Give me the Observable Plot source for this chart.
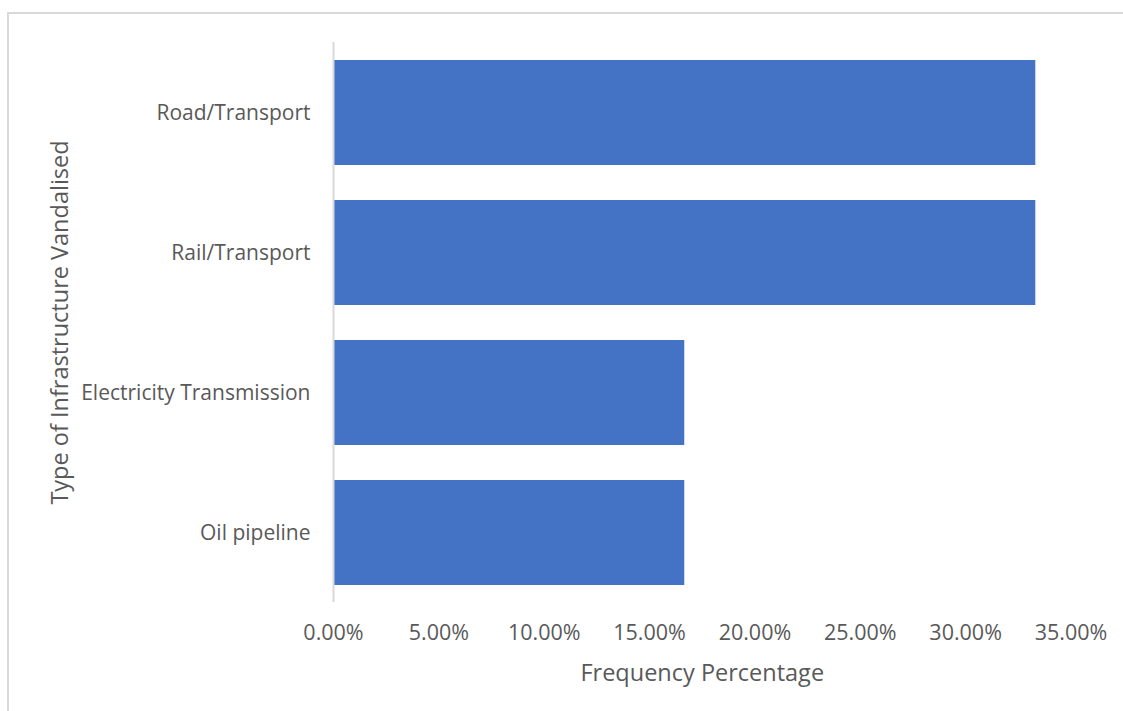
<!DOCTYPE html>
<html>
<head>
<meta charset="utf-8">
<script src="https://cdn.jsdelivr.net/npm/d3@7"></script>
<script src="https://cdn.jsdelivr.net/npm/@observablehq/plot@0.6"></script>
<style>
  html, body { margin: 0; padding: 0; background: #fff; }
  #wrap { position: relative; width: 1123px; height: 711px; overflow: hidden; }
  #border { position: absolute; left: 7px; top: 12px; width: 1130px; height: 720px;
            border-left: 2px solid #d9d9d9; border-top: 2px solid #d9d9d9; box-sizing: border-box; }
  #chart { position: absolute; left: 0; top: 0; }
</style>
</head>
<body>
<div id="wrap"><div id="border"></div><div id="chart"></div></div>
<script>
const categories = ["Road/Transport", "Rail/Transport", "Electricity Transmission", "Oil pipeline"];
const values = [33.33, 33.33, 16.67, 16.67];
const xTicks = [0, 5, 10, 15, 20, 25, 30, 35];
const xTitle = "Frequency Percentage";
const yTitle = "Type of Infrastructure Vandalised";

const data = categories.map((c, i) => ({category: c, value: values[i]}));
const textColor = "#595959";

const chart = Plot.plot({
  width: 1123,
  height: 711,
  marginLeft: 333,
  marginRight: 52.5,
  marginTop: 42,
  marginBottom: 109,
  style: {fontFamily: "'Open Sans', sans-serif", fontSize: "21px", color: textColor, background: "transparent"},
  x: {domain: [0, 35]},
  y: {domain: categories, paddingInner: 0.25, paddingOuter: 0.125},
  marks: [
    Plot.barX(data, {x: "value", y: "category", fill: "#4472C4"}),
    Plot.ruleX([0], {stroke: "#d9d9d9", strokeWidth: 2}),
    Plot.axisX({ticks: xTicks, tickSize: 0, tickPadding: 22, tickFormat: d => d.toFixed(2) + "%", label: null, fill: textColor, fontSize: 21.5}),
    Plot.axisY({tickSize: 0, tickPadding: 23, label: null, fill: textColor, fontSize: 21}),
    Plot.text([xTitle], {frameAnchor: "bottom", dy: 71, lineAnchor: "middle", fontSize: 23.5, fill: textColor}),
    Plot.text([yTitle], {frameAnchor: "left", dx: -273, rotate: -90, textAnchor: "middle", lineAnchor: "middle", fontSize: 23.5, fill: textColor})
  ]
});
document.getElementById("chart").appendChild(chart);
</script>
</body>
</html>
